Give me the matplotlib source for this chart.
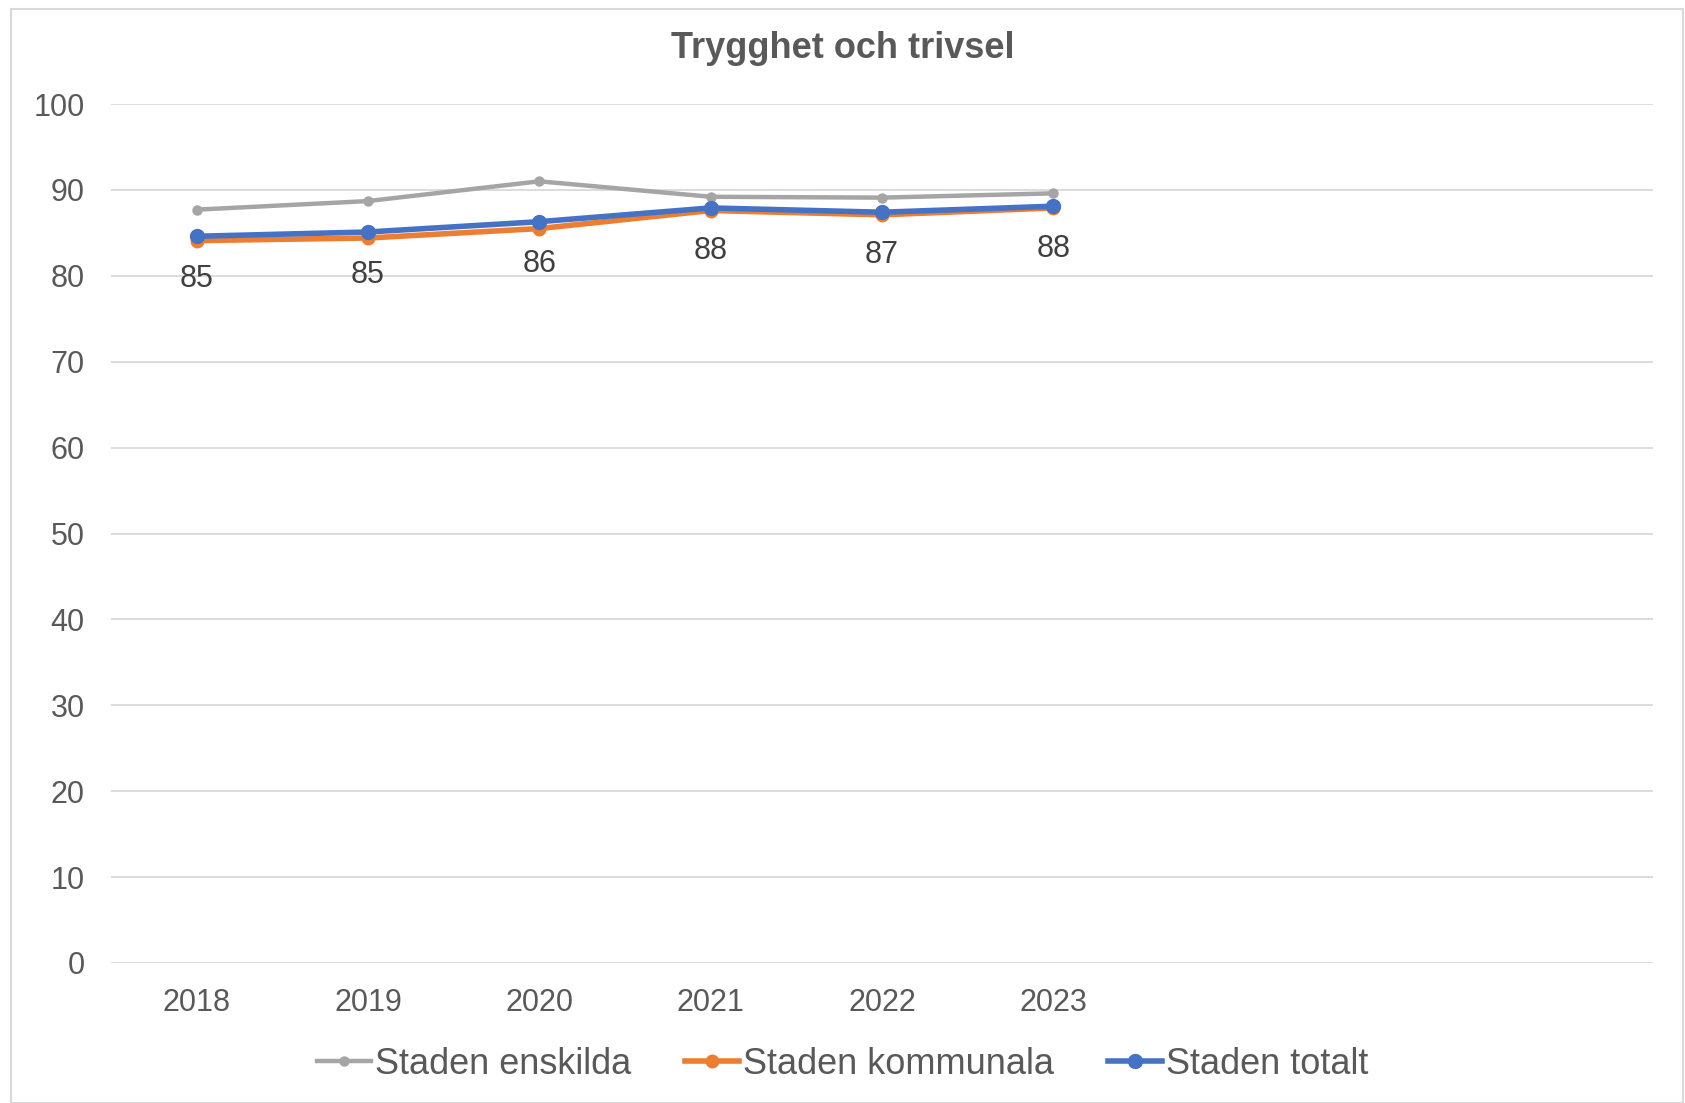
import matplotlib
matplotlib.use("Agg")
import matplotlib.pyplot as plt
from matplotlib.patches import Rectangle

plt.rcParams['font.family'] = ['Liberation Sans', 'DejaVu Sans']

# data
years = ["2018", "2019", "2020", "2021", "2022", "2023", "", "", ""]
enskilda = [87.7, 88.7, 91.0, 89.2, 89.1, 89.6]
kommunala = [84.1, 84.4, 85.5, 87.6, 87.1, 87.9]
totalt = [84.6, 85.1, 86.3, 87.9, 87.4, 88.1]
labels_totalt = ["85", "85", "86", "88", "87", "88"]
yticks = [0, 10, 20, 30, 40, 50, 60, 70, 80, 90, 100]

W, H = 1685, 1103
fig = plt.figure(figsize=(W / 100, H / 100), dpi=100)
ax = fig.add_axes([111 / W, 1 - 963 / H, (1653 - 111) / W, (963 - 104) / H])

# outer chart frame
fig.patches.append(Rectangle((11 / W, 0), (1683 - 11) / W, 1 - 9 / H,
                             transform=fig.transFigure, fill=False,
                             edgecolor="#d9d9d9", linewidth=1.5))

x = list(range(len(years)))
n = len(enskilda)
ax.plot(x[:n], enskilda, color="#a5a5a5", lw=3.2, marker="o", ms=6.5, label="Staden enskilda")
ax.plot(x[:n], kommunala, color="#ed7d31", lw=4, marker="o", ms=9, label="Staden kommunala")
ax.plot(x[:n], totalt, color="#4472c4", lw=4, marker="o", ms=10, label="Staden totalt")

for xi, v, t in zip(x[:n], totalt, labels_totalt):
    ax.annotate(t, (xi, v), xytext=(0, -20), textcoords="offset points",
                ha="center", va="top", fontsize=22, color="#404040")

ax.set_xlim(-0.5, len(years) - 0.5)
ax.set_ylim(0, 100)
ax.set_yticks(yticks)
ax.set_xticks(x)
ax.set_xticklabels(years)
ax.tick_params(axis="both", length=0, labelsize=22, labelcolor="#595959")
ax.tick_params(axis="y", pad=19)
ax.tick_params(axis="x", pad=18)
ax.grid(axis="y", color="#d9d9d9", lw=1.3)
ax.set_axisbelow(True)
for s in ax.spines.values():
    s.set_visible(False)

fig.text(0.5, 1 - 49 / H, "Trygghet och trivsel", ha="center", va="center",
         fontsize=26, fontweight="bold", color="#595959")

fig.legend(loc="center", bbox_to_anchor=(0.5, 1 - 1064 / H), ncol=3, frameon=False,
           fontsize=26, labelcolor="#595959", handlelength=1.5, handletextpad=0.1,
           columnspacing=1.5)

fig.savefig("out.png", dpi=100, facecolor="white")
